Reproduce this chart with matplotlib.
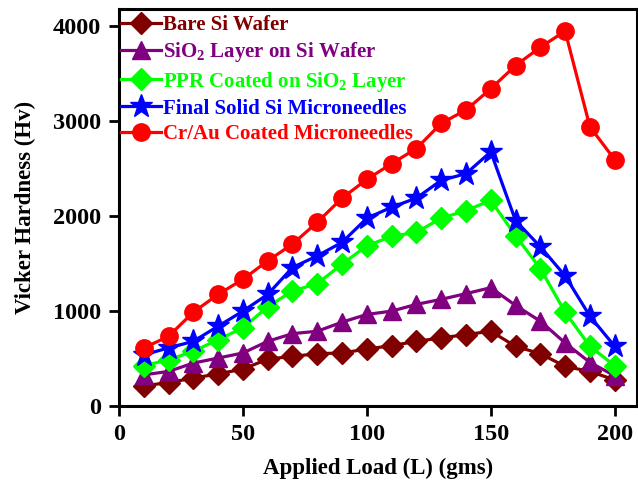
import numpy as np
import matplotlib
matplotlib.use('Agg')
import matplotlib.pyplot as plt

# applied load (gms)
load = [10, 20, 30, 40, 50, 60, 70, 80, 90, 100,
        110, 120, 130, 140, 150, 160, 170, 180, 190, 200]

# vicker hardness (Hv)
bare_si = [212, 247, 293, 339, 388, 494, 522, 551, 558, 600,
           635, 681, 717, 752, 787, 628, 551, 417, 364, 275]
sio2_layer = [328, 364, 452, 505, 558, 681, 762, 787, 883, 964,
              999, 1070, 1123, 1183, 1246, 1059, 893, 664, 459, 318]
ppr_coated = [424, 487, 575, 699, 822, 1045, 1211, 1288, 1493, 1687,
              1786, 1829, 1977, 2058, 2164, 1793, 1447, 988, 628, 424]
final_solid = [540, 611, 681, 840, 999, 1175, 1458, 1581, 1723, 1977,
               2093, 2189, 2376, 2446, 2676, 1952, 1677, 1370, 946, 628]
cr_au = [611, 734, 988, 1175, 1334, 1528, 1705, 1934, 2189, 2386,
         2552, 2711, 2976, 3117, 3340, 3585, 3777, 3947, 2940, 2594]

series = [
    ('Bare Si Wafer', bare_si, '#800000', 'D', 11.5),
    ('SiO$_2$ Layer on Si Wafer', sio2_layer, '#800080', '^', 13),
    ('PPR Coated on SiO$_2$ Layer', ppr_coated, '#00FF00', 'D', 11.5),
    ('Final Solid Si Microneedles', final_solid, '#0000FF', '*', 17),
    ('Cr/Au Coated Microneedles', cr_au, '#FF0000', 'o', 12.5),
]

plt.rcParams['font.family'] = ['Liberation Serif', 'DejaVu Serif']
plt.rcParams['font.weight'] = 'bold'
plt.rcParams['mathtext.fontset'] = 'custom'
plt.rcParams['mathtext.rm'] = 'Liberation Serif:bold'
plt.rcParams['mathtext.it'] = 'Liberation Serif:bold'
plt.rcParams['mathtext.bf'] = 'Liberation Serif:bold'

fig = plt.figure(figsize=(6.38, 4.92), dpi=100)
ax = fig.add_axes([119 / 638, 86 / 492, (637 - 119) / 638, (406 - 9) / 492])

for name, vals, col, mk, ms in series:
    ax.plot(load, vals, color=col, marker=mk, markersize=ms, linewidth=2.3,
            label=name)

ax.set_xlim(0, 209)
ax.set_ylim(0, 4180)
ax.set_xticks([0, 50, 100, 150, 200])
ax.set_yticks([0, 1000, 2000, 3000, 4000])

for s in ax.spines.values():
    s.set_linewidth(2.2)
ax.tick_params(direction='out', length=7, width=2, labelsize=17.5, pad=6)
for lab in ax.get_xticklabels() + ax.get_yticklabels():
    lab.set_fontweight('bold')

ax.set_xlabel('Applied Load (L) (gms)', fontsize=16.5, fontweight='bold',
              labelpad=9)
ax.set_ylabel('Vicker Hardness (Hv)', fontsize=16.5, fontweight='bold',
              labelpad=12)

leg = ax.legend(loc='upper left', frameon=False, fontsize=15,
                bbox_to_anchor=(-0.004, 0.995), borderaxespad=0,
                borderpad=0.2, handlelength=1.9,
                handletextpad=0.1, labelspacing=0.25)
for txt, (name, vals, col, mk, ms) in zip(leg.get_texts(), series):
    txt.set_color(col)
    txt.set_fontweight('bold')

fig.savefig('out.png', dpi=100)
